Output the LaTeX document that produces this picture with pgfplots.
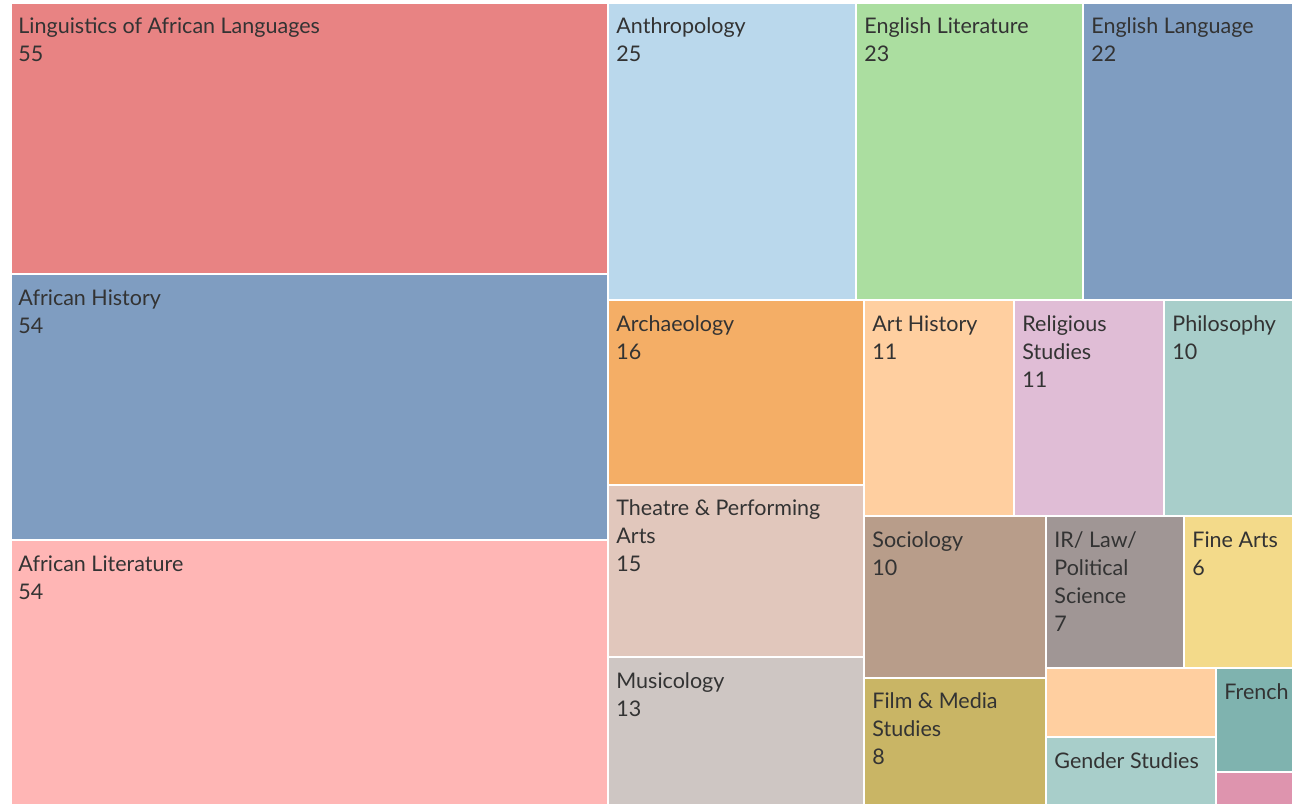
\documentclass[border=0pt]{standalone}
\usepackage{fontspec}
\setmainfont{Lato}
\usepackage{pgfplots}
\pgfplotsset{compat=1.18}

\definecolor{cLing}{HTML}{E88383}
\definecolor{cHist}{HTML}{7F9DC1}
\definecolor{cLit}{HTML}{FFB6B5}
\definecolor{cAnth}{HTML}{BAD8EC}
\definecolor{cEngLit}{HTML}{ABDEA0}
\definecolor{cArch}{HTML}{F4AE66}
\definecolor{cArtH}{HTML}{FFCFA0}
\definecolor{cRel}{HTML}{E0BDD6}
\definecolor{cPhil}{HTML}{A8CECA}
\definecolor{cThea}{HTML}{E1C7BC}
\definecolor{cMus}{HTML}{CEC6C3}
\definecolor{cSoc}{HTML}{B89D8A}
\definecolor{cFilm}{HTML}{C9B565}
\definecolor{cIR}{HTML}{A09695}
\definecolor{cFine}{HTML}{F3DA8A}
\definecolor{cFren}{HTML}{7FB3AF}
\definecolor{cPink}{HTML}{DE94AE}
\definecolor{txt}{HTML}{333333}

\tikzset{
  cell/.style={draw=white, line width=1pt},
  lab/.style={anchor=north west, inner sep=0pt, align=left, text=txt,
    font=\fontsize{10.75}{14}\selectfont},
}

\begin{document}
\begin{tikzpicture}
\begin{axis}[
  width=646pt, height=402pt, scale only axis,
  xmin=0, xmax=1292, ymin=0, ymax=804, y dir=reverse,
  hide axis, clip=true,
]
% white canvas so the margins stay in the picture
\addplot[draw=none, fill=white] coordinates {(0,0) (1292,0) (1292,804) (0,804)} -- cycle;
% one closed rectangle per category, in picture units
\addplot[cell, fill=cLing]   coordinates {(11,3) (608,3) (608,274) (11,274)} -- cycle;
\addplot[cell, fill=cHist]   coordinates {(11,274) (608,274) (608,540) (11,540)} -- cycle;
\addplot[cell, fill=cLit]    coordinates {(11,540) (608,540) (608,806) (11,806)} -- cycle;
\addplot[cell, fill=cAnth]   coordinates {(608,3) (856,3) (856,300) (608,300)} -- cycle;
\addplot[cell, fill=cEngLit] coordinates {(856,3) (1083,3) (1083,300) (856,300)} -- cycle;
\addplot[cell, fill=cHist]   coordinates {(1083,3) (1294,3) (1294,300) (1083,300)} -- cycle;
\addplot[cell, fill=cArch]   coordinates {(608,300) (864,300) (864,485) (608,485)} -- cycle;
\addplot[cell, fill=cThea]   coordinates {(608,485) (864,485) (864,657) (608,657)} -- cycle;
\addplot[cell, fill=cMus]    coordinates {(608,657) (864,657) (864,806) (608,806)} -- cycle;
\addplot[cell, fill=cArtH]   coordinates {(864,300) (1014,300) (1014,516) (864,516)} -- cycle;
\addplot[cell, fill=cRel]    coordinates {(1014,300) (1164,300) (1164,516) (1014,516)} -- cycle;
\addplot[cell, fill=cPhil]   coordinates {(1164,300) (1294,300) (1294,516) (1164,516)} -- cycle;
\addplot[cell, fill=cSoc]    coordinates {(864,516) (1046,516) (1046,678) (864,678)} -- cycle;
\addplot[cell, fill=cFilm]   coordinates {(864,678) (1046,678) (1046,806) (864,806)} -- cycle;
\addplot[cell, fill=cIR]     coordinates {(1046,516) (1184,516) (1184,668) (1046,668)} -- cycle;
\addplot[cell, fill=cFine]   coordinates {(1184,516) (1294,516) (1294,668) (1184,668)} -- cycle;
\addplot[cell, fill=cArtH]   coordinates {(1046,668) (1216,668) (1216,737) (1046,737)} -- cycle;
\addplot[cell, fill=cPhil]   coordinates {(1046,737) (1216,737) (1216,806) (1046,806)} -- cycle;
\addplot[cell, fill=cFren]   coordinates {(1216,668) (1294,668) (1294,772) (1216,772)} -- cycle;
\addplot[cell, fill=cPink]   coordinates {(1216,772) (1294,772) (1294,806) (1216,806)} -- cycle;

% labels
\node[lab] at (axis cs:18,17)   {Linguistics of African Languages\\55};
\node[lab] at (axis cs:18,289)  {African History\\54};
\node[lab] at (axis cs:18,555)  {African Literature\\54};
\node[lab] at (axis cs:616,17)  {Anthropology\\25};
\node[lab] at (axis cs:864,17)  {English Literature\\23};
\node[lab] at (axis cs:1091,17) {English Language\\22};
\node[lab] at (axis cs:616,315) {Archaeology\\16};
\node[lab] at (axis cs:872,315) {Art History\\11};
\node[lab] at (axis cs:1022,315) {Religious\\Studies\\11};
\node[lab] at (axis cs:1172,315) {Philosophy\\10};
\node[lab] at (axis cs:616,499) {Theatre \& Performing\\Arts\\15};
\node[lab] at (axis cs:616,672) {Musicology\\13};
\node[lab] at (axis cs:872,531) {Sociology\\10};
\node[lab] at (axis cs:1054,531) {IR/ Law/\\Political\\Science\\7};
\node[lab] at (axis cs:1192,531) {Fine Arts\\6};
\node[lab] at (axis cs:872,692) {Film \& Media\\Studies\\8};
\node[lab] at (axis cs:1054,752) {Gender Studies};
\node[lab] at (axis cs:1224,683) {French};
\end{axis}
\end{tikzpicture}
\end{document}
